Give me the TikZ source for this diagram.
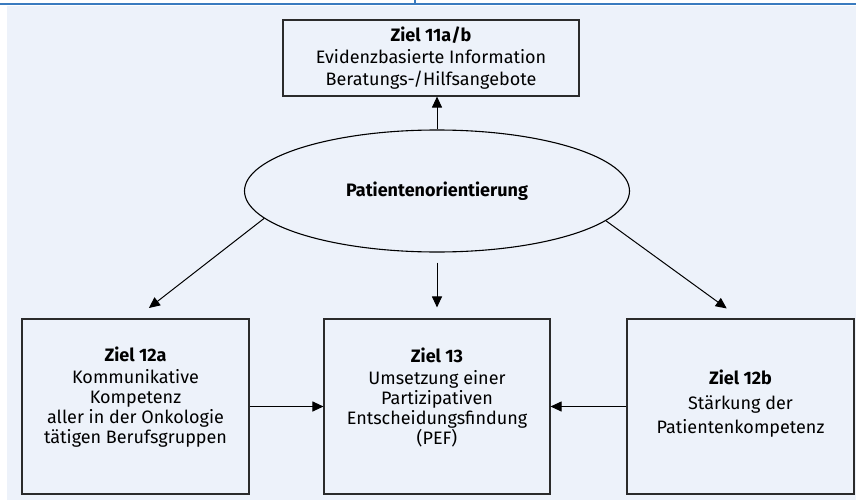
\documentclass[tikz,border=0pt]{standalone}
\usepackage{fontspec}
\setmainfont{Fira Sans}
\usetikzlibrary{shapes.geometric,arrows.meta}
\definecolor{bgblue}{HTML}{EDF2FA}
\definecolor{rulblue}{HTML}{3A7BBF}
\definecolor{linegray}{HTML}{2B2B2B}
\begin{document}
\begin{tikzpicture}[
    x=1pt, y=-1pt,
    font=\fontsize{18}{21}\selectfont,
    zielbox/.style={rectangle, draw=linegray, line width=1.1pt, align=center, inner sep=0pt},
    zieltext/.style={align=center, inner sep=0pt},
    pfeil/.style={-{Triangle[length=11pt,width=10pt]}, line width=1pt, black}
]
\useasboundingbox (0,0) rectangle (856,503);
% Background
\fill[bgblue] (7,6) rectangle (856,500);
\draw[rulblue, line width=2pt] (0,4.5) -- (856,4.5);
\draw[rulblue, line width=1.2pt] (415,0) -- (415,5);

% Top goal
\node[zielbox, minimum width=296, minimum height=76] (z11) at (431,58)
    {\textbf{Ziel 11a/b}\\[1pt]Evidenzbasierte Information\\[1pt]Beratungs-/Hilfsangebote};

% Centre
\node[ellipse, draw=black, line width=1.1pt, minimum width=385, minimum height=122, inner sep=0pt] (pat) at (437,191)
    {\textbf{Patientenorientierung}};

% Bottom goals
\node[zielbox, minimum width=227, minimum height=175] (z12a) at (135.5,406.5) {};
\node[zieltext] (z12atext) at ([yshift=9pt]z12a.center)
    {\textbf{Ziel 12a}\\[1pt]Kommunikative\\[-1pt]Kompetenz\\[-1pt]aller in der Onkologie\\[-1pt]tätigen Berufsgruppen};
\node[zielbox, minimum width=226, minimum height=175] (z13) at (437,406.5) {};
\node[zieltext] (z13text) at ([yshift=9pt]z13.center)
    {\textbf{Ziel 13}\\[1pt]Umsetzung einer\\[-1pt]Partizipativen\\[-1pt]Entscheidungsfindung\\[-1pt](PEF)};
\node[zielbox, minimum width=227, minimum height=175] (z12b) at (740.5,406.5) {};
\node[zieltext] (z12btext) at ([yshift=3pt]z12b.center)
    {\textbf{Ziel 12b}\\[4pt]Stärkung der\\[3pt]Patientenkompetenz};

% Connections
\draw[pfeil] (pat.north) -- (pat.north |- z11.south);
\draw[pfeil, shorten >=17pt] (pat.189) -- (z12a.north);
\draw[pfeil, shorten <=10pt, shorten >=11pt] (pat.south) -- (z13.north);
\draw[pfeil, shorten >=17pt] (pat.350) -- (z12b.north);
\draw[pfeil] (z12a.east) -- (z13.west);
\draw[pfeil] (z12b.west) -- (z13.east);
\end{tikzpicture}
\end{document}
